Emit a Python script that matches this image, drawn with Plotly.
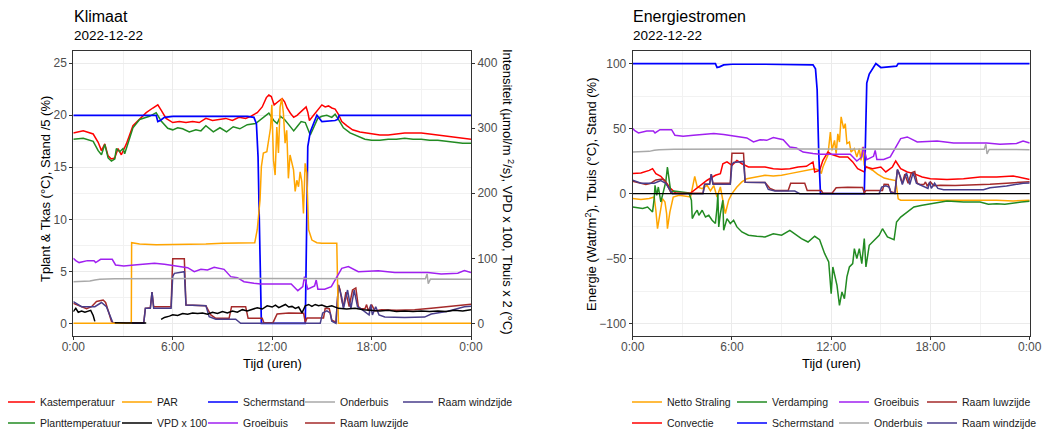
import plotly.graph_objects as go

# ---------------- data (hours of day 2022-12-22) ----------------
x_tickvals = [0, 6, 12, 18, 24]
x_ticktext = ["0:00", "6:00", "12:00", "18:00", "0:00"]

# Kastemperatuur (°C)
kas_t = [0, 0.6, 1.2, 1.5, 1.7, 1.9, 2.1, 2.3, 2.5, 2.7, 2.9, 3.2, 3.6, 4.0, 4.4, 4.8, 5.1, 5.3, 5.6, 6.0,
         6.4, 6.8, 7.2, 7.6, 8.0, 8.4, 8.8, 9.2, 9.6, 10.0, 10.4, 10.7, 11.1, 11.4, 11.65, 11.8, 11.95, 12.12,
         12.35, 12.6, 12.75, 12.9, 13.1, 13.3, 13.5, 13.7, 13.9, 14.05, 14.15, 14.25, 14.45, 14.65, 14.85, 15.0,
         15.2, 15.4, 15.6, 15.8, 16.0, 16.2, 16.5, 16.85, 17.3, 17.7, 18.0, 18.5, 19, 19.5, 20, 20.5, 21, 21.5,
         22, 22.5, 23, 23.5, 24]
kas_v = [18.3, 18.5, 18.2, 17.4, 16.6, 17.25, 16.1, 15.8, 15.9, 16.8, 16.2, 17.25, 19.0, 19.6, 20.25, 20.7, 21.0,
         20.5, 19.7, 19.3, 19.4, 19.3, 19.4, 19.3, 19.7, 19.5, 19.6, 19.7, 19.5, 19.8, 19.7, 19.9, 20.25, 20.8,
         21.7, 21.95, 21.8, 21.0, 21.3, 21.6, 21.3, 20.7, 20.2, 19.8, 20.0, 20.3, 20.6, 20.8, 20.3, 19.5, 19.9,
         20.3, 20.8, 21.0, 20.8, 20.9, 20.7, 20.6, 20.1, 19.4, 19.0, 18.6, 18.4, 18.3, 18.2, 18.1, 18.1, 18.2,
         18.3, 18.3, 18.3, 18.2, 18.1, 18.0, 17.9, 17.8, 17.7]

# Planttemperatuur (°C)
plant_t = [0, 0.6, 1.2, 1.5, 1.7, 1.9, 2.1, 2.3, 2.5, 2.6, 2.8, 3.0, 3.1, 3.3, 3.6, 4.0, 4.6, 5.0, 5.3, 5.7,
           6.0, 6.3, 6.6, 7.0, 7.4, 7.7, 8.0, 8.45, 8.85, 9.25, 9.65, 10.05, 10.5, 11.0, 11.3, 11.6, 11.8, 12.1,
           12.3, 12.5, 12.75, 13.0, 13.3, 13.5, 13.75, 14.0, 14.15, 14.3, 14.5, 14.75, 15.0, 15.3, 15.6, 15.8,
           16.0, 16.3, 16.7, 17.2, 17.6, 18.0, 18.5, 19, 19.5, 20, 20.5, 21, 21.5, 22, 22.5, 23, 23.5, 24]
plant_v = [17.7, 17.8, 17.5, 16.6, 16.2, 17.2, 15.9, 15.6, 15.8, 16.8, 16.5, 16.8, 16.3, 17.35, 18.8, 19.6, 19.9,
           20.25, 19.45, 18.75, 18.6, 18.8, 18.7, 18.4, 18.6, 18.5, 19.0, 18.4, 18.8, 18.4, 18.9, 18.7, 19.1,
           19.2, 19.6, 20.0, 20.2, 19.5, 19.2, 19.9, 19.6, 19.1, 18.5, 18.9, 19.4, 19.3, 18.6, 18.1, 18.8, 19.7,
           19.9, 20.0, 19.8, 20.1, 19.6, 18.8, 18.3, 18.0, 17.7, 17.6, 17.6, 17.7, 17.7, 17.8, 17.7, 17.7, 17.6,
           17.6, 17.5, 17.4, 17.3, 17.3]

# PAR (µmol/m2/s)
par_t = [0, 3.5, 3.52, 4.0, 5.0, 6.0, 7.0, 8.0, 9.0, 10.0, 10.95, 11.1, 11.27, 11.35, 11.47, 11.68, 11.78, 11.9,
         11.98, 12.08, 12.18, 12.28, 12.38, 12.48, 12.58, 12.68, 12.78, 12.88, 12.98, 13.08, 13.29, 13.39, 13.49,
         13.59, 13.69, 13.79, 13.89, 13.99, 14.09, 14.2, 14.4, 14.7, 15.0, 15.5, 15.9, 15.95, 16.0, 24]
par_v = [0, 0, 124, 122, 121, 121, 122, 122, 123, 123, 124, 144, 190, 241, 262, 264, 280, 300, 336, 251, 228, 302,
         262, 333, 346, 323, 277, 297, 223, 259, 236, 203, 220, 210, 233, 218, 169, 246, 231, 144, 128, 124, 123,
         123, 123, 60, 0, 0]

# VPD x 100
vpd_t = [0, 0.15, 0.3, 0.5, 0.7, 0.9, 1.05, 1.2, 1.3, 1.32, 2.5, 2.8, 3.2, 3.6, 4.0, 4.4, 4.45, 5.3, 5.5, 5.8,
         6.0, 6.3, 6.6, 6.9, 7.2, 7.5, 7.8, 8.1, 8.4, 8.7, 9.0, 9.3, 9.6, 9.9, 10.2, 10.5, 10.8, 11.1, 11.4, 11.7,
         12.0, 12.2, 12.4, 12.6, 12.8, 13.0, 13.2, 13.4, 13.6, 13.8, 14.0, 14.2, 14.4, 14.6, 14.8, 15.0, 15.3,
         15.6, 16.0, 16.5, 17.0, 17.5, 18.0, 18.5, 19, 19.5, 20, 20.5, 21, 21.5, 22, 22.5, 23, 23.5, 24]
vpd_v = [18, 23, 17, 19, 17, 19, 20, 12, 3, None, 1, 0.5, 0.3, 0.5, 0.3, 0.5, None, 6, 9, 11,
         13, 12, 15, 14, 16, 15, 16, 14, 17, 15, 18, 16, 19, 17, 21, 19, 22, 24, 22, 27,
         25, 28, 24, 27, 29, 25, 26, 23, 25, 16, 27, 29, 26, 29, 27, 28, 25, 27, 23, 22,
         23, 21, 20, 19, 20, 18, 19, 18, 19, 18, 19, 18, 20, 19, 21]

# Schermstand (%)
scherm_t = [0, 5.0, 5.1, 5.25, 5.5, 6.0, 8.0, 10.5, 10.9, 11.05, 11.15, 11.25, 11.35, 14.0, 14.08, 14.15, 14.3,
            14.5, 14.7, 15.0, 15.8, 15.95, 16.05, 24]
scherm_v = [100, 100, 97, 97.5, 99, 99.5, 99.5, 99.5, 99, 96, 80, 30, 0, 0, 40, 85, 92, 96, 100, 97, 97.5, 98,
            100, 100]

# Groeibuis (°C)
groei_t = [0, 0.15, 0.35, 0.85, 1.25, 1.35, 1.65, 2.35, 2.55, 3.05, 3.67, 4.27, 4.9, 5.5, 6.1, 6.9, 7.3, 7.7,
           8.1, 8.5, 9.1, 9.5, 9.9, 10.3, 10.9, 11.3, 12.5, 13.15, 13.55, 13.85, 13.95, 14.15, 14.56, 14.66,
           14.76, 15.17, 15.57, 15.87, 16.2, 16.6, 17.2, 18.4, 19.4, 20.4, 21.4, 22.2, 23.2, 23.6, 24]
groei_v = [50, 48.2, 46.7, 48.2, 48.2, 46.7, 49.2, 49.2, 44.9, 44.1, 44.9, 45.6, 46.2, 45.4, 44.1, 42.8, 39.7,
           41.5, 41.0, 43.1, 41.5, 35.9, 35.1, 32.0, 30.8, 30.3, 30.3, 30.3, 25.1, 28.2, 35.9, 26.2, 28.7, 33.3,
           26.2, 26.2, 28.2, 34.6, 42.3, 43.6, 39.7, 40.5, 39.0, 39.0, 39.0, 37.9, 38.5, 40.5, 39.0]

# Onderbuis (°C)
onder_t = [0, 0.5, 1.0, 1.3, 1.6, 2.5, 4, 6, 8, 10, 12, 14, 16, 18, 20, 21.25, 21.35, 21.42, 21.55, 22, 23, 24]
onder_v = [32.0, 32.0, 32.5, 33.3, 33.8, 34.2, 34.4, 34.5, 34.4, 34.4, 34.3, 34.3, 34.5, 34.5, 34.4, 34.2, 38.0,
           30.5, 34.0, 34.0, 33.9, 33.8]

# Raam luwzijde (%)
luw_t = [0, 0.5, 0.8, 1.1, 1.4, 1.8, 1.95, 2.15, 2.3, 2.4, 4.25, 4.35, 4.65, 4.75, 4.85, 5.9, 6.0, 6.7, 6.8, 8.0,
         8.3, 8.6, 9.4, 9.55, 10.4, 10.55, 11.4, 11.5, 12.05, 12.3, 13.0, 13.9, 14.0, 14.1, 15.1, 15.2, 15.45,
         15.6, 15.85, 16.0, 16.1, 16.2, 16.3, 16.45, 16.65, 16.85, 17.05, 17.2, 17.35, 17.6, 17.7, 17.8, 18.0,
         18.2, 18.6, 19.5, 20.6, 21.6, 22.6, 23.6, 24]
luw_v = [9.6, 8, 7, 8, 10.5, 11.2, 10, 5, 1, 0.3, 0.3, 7.2, 7.5, 15, 8, 8, 31, 31, 8.8, 8.5,
         4, 2.4, 2.4, 8, 8, 2.4, 2.4, 0.3, 0.3, 4.5, 5, 4.8, 0.5, 2.5, 2.5, 7.2, 7, 1.5, 0.5, 18.4,
         16, 11, 8, 15, 8, 16, 17, 8, 7, 7, 9, 6, 9, 6, 6.5, 6.3, 6.5, 7.2, 8, 9, 9.2]

# Raam windzijde (%)
wind_t = [0, 0.5, 1.3, 1.7, 2.0, 2.2, 2.4, 4.25, 4.35, 4.65, 4.75, 4.85, 5.9, 6.0, 6.1, 6.7, 6.8, 8.0, 8.2, 8.6,
          9.8, 9.95, 10.1, 14.9, 15.05, 15.3, 15.5, 15.6, 15.85, 16.0, 16.2, 16.3, 16.55, 16.75, 16.95, 17.15,
          17.45, 17.85, 17.95, 18.05, 18.25, 18.45, 18.8, 20.0, 21.2, 21.6, 22.6, 23.6, 24]
wind_v = [10.4, 8, 8, 10, 8, 4, 0, 0, 7.2, 7.2, 15, 7.2, 7.2, 22.5, 24, 24.8, 8.8, 8.5, 3.2, 2,
          2, 1, 0, 0, 5, 6, 5, 1, 0, 18.5, 12.5, 7, 16, 7, 16, 8, 6.5, 4, 9, 4,
          8, 4, 3, 2.8, 3, 4.5, 5.8, 8, 8.2]

# Netto Straling (W/m2)
netto_t = [0, 0.5, 1.0, 1.3, 1.4, 1.5, 1.65, 1.8, 1.95, 2.05, 2.1, 2.25, 2.45, 2.8, 3.5, 3.65, 3.75, 3.9, 4.2, 4.5,
           4.7, 4.9, 5.1, 5.3, 5.5, 5.6, 5.8, 6.0, 6.3, 6.6, 6.9, 7.5, 8.0, 8.5, 9.0, 9.5, 10.0, 10.5, 11.0, 11.3,
           11.4, 11.5, 11.8, 11.95, 12.05, 12.2, 12.3, 12.4, 12.5, 12.6, 12.75, 12.85, 12.95, 13.1, 13.2, 13.4,
           13.55, 13.7, 13.8, 13.9, 14.0, 14.2, 14.5, 14.8, 15.2, 15.5, 15.9, 16.05, 16.2, 17, 18, 19, 20, 21,
           22, 23, 24]
netto_v = [-3.8, -4.6, -3.8, -2.6, -12.8, -26.9, -15.4, -3.8, -6.4, -15.4, -26.9, -14.1, -2.6, -1.3, -2.6, 9,
           13.3, 5.1, 3.8, 6.4, 2.1, 6.2, -2.6, 5.1, -7.7, -15.4, -5.1, 0, 5.1, 9, 11.5, 12.8, 14.1, 13.6, 14.1,
           15.4, 16.7, 17.9, 19.2, 17.9, 15.4, 20.5, 29.5, 47.4, 33.3, 41, 30.8, 46, 39.7, 59, 50, 53.8, 38.5,
           39.7, 32, 34.6, 28.2, 34.6, 25.6, 35.9, 22, 20, 18, 15, 12, 11, 10, -4, -5.1, -5.1, -5.1, -4.6, -4.6,
           -4.6, -5.1, -5.6, -5.1]

# Convectie (W/m2)
conv_t = [0, 0.5, 1.0, 1.2, 1.4, 1.7, 2.0, 2.3, 2.6, 3.0, 3.5, 4.0, 4.5, 5.0, 5.3, 5.45, 5.7, 6.0, 6.3, 6.6,
          7.0, 7.5, 8.0, 8.5, 9.0, 9.5, 10.0, 10.5, 10.9, 11.0, 11.3, 11.5, 11.8, 12.0, 12.5, 13.0, 13.3, 13.6,
          14.0, 14.1, 14.5, 15.0, 15.3, 15.7, 15.9, 16.2, 16.6, 17.0, 17.5, 18.0, 19.0, 20.0, 21.0, 22.0, 23.0, 24]
conv_v = [15.4, 15.9, 17.9, 19.2, 15.4, 13.3, 9, 3.8, 0.5, 0, 0.5, 5.1, 10.3, 14.1, 15.4, 23, 24.4, 21.8, 25.6,
          23, 20.5, 20.5, 20.5, 19.2, 18.7, 19.2, 20.5, 21, 24.4, 16.7, 17.9, 25.6, 32, 30.3, 28.2, 28.2, 24.4,
          19.2, 16.7, 20.5, 19.2, 20.5, 16.7, 20.5, 25.1, 19.2, 16.7, 15.4, 12.8, 11.5, 10.8, 11.5, 12.8, 12.8,
          13.6, 10.8]

# Verdamping (W/m2)
verd_t = [0, 0.3, 0.6, 0.9, 1.1, 1.2, 1.3, 1.35, 1.45, 1.55, 1.7, 1.85, 2.0, 2.1, 2.2, 2.3, 2.5, 3.0, 3.4, 3.55,
          3.6, 3.75, 3.9, 4.0, 4.2, 4.4, 4.6, 4.8, 5.0, 5.1, 5.15, 5.2, 5.3, 5.45, 5.5, 5.7, 5.9, 6.1, 6.3, 6.6,
          7.0, 7.5, 8.0, 8.5, 9.0, 9.5, 9.8, 10.2, 10.6, 11.0, 11.3, 11.6, 11.85, 12.0, 12.1, 12.35, 12.5, 12.65,
          12.8, 12.95, 13.1, 13.3, 13.4, 13.55, 13.7, 13.85, 14.0, 14.1, 14.3, 14.6, 14.9, 15.1, 15.4, 15.8,
          15.95, 16.2, 16.6, 17.0, 17.5, 18.0, 18.5, 19.0, 20.0, 21.0, 21.5, 22.0, 22.5, 23.0, 23.5, 24]
verd_v = [-10.3, -10.8, -11.5, -10.3, -13.3, -14.1, -3.8, 6.4, -1.3, 5.1, -6.4, 2.6, 9, 20.5, 9, 1.3, 2, 1.3,
          0.5, -5.1, -19.2, -15.4, -12.8, -16.7, -12.8, -18, -16.7, -20.5, -23, -10.3, 0, -25.6, -15.4, -5.1,
          -28.2, -19.2, -23, -20.5, -25.6, -29.5, -32, -32.8, -33.3, -30.8, -32, -28.2, -30.8, -34.6, -37.2,
          -32.8, -35.4, -46, -52.6, -77, -56.4, -70.5, -86, -75.6, -80.8, -64, -56.4, -53.8, -42.3, -50, -42.3,
          -53.8, -34.6, -56.4, -39.7, -35.9, -32, -27, -33.3, -35.4, -21.8, -18, -14.1, -10.3, -9, -7.7, -6.4,
          -5.6, -6.4, -6.4, -8.2, -7.7, -8.2, -7.2, -6.4, -5.9]

# ---------------- layout helpers ----------------
# The page body has an 8 px margin, so the figure is sized to fit the 1051x434 window
# and screen coordinates are converted to figure coordinates by subtracting that offset.
OFF = 8
W, H = 1051 - OFF, 434 - OFF
FONT = "Liberation Sans, Arial, sans-serif"


def px(x):
    return (x - OFF) / W


def py(y):
    return 1 - (y - OFF) / H


RED, GREEN, ORANGE, BLUE = "#FF0000", "#228B22", "#FFA500", "#0000FF"
GREY, PURPLE, BROWN, SLATE = "#A9A9A9", "#A020F0", "#A52A2A", "#483D8B"

fig = go.Figure()
legends = {}
leg_count = [0]


def add_line(t, v, name, color, xa, ya, lx, ly, width=1.5, scale=1.0):
    leg_count[0] += 1
    key = "legend" if leg_count[0] == 1 else "legend%d" % leg_count[0]
    n = min(len(t), len(v))
    yy = [None if val is None else val * scale for val in v[:n]]
    fig.add_trace(go.Scatter(x=t[:n], y=yy, mode="lines", name=name,
                             line=dict(color=color, width=width),
                             xaxis=xa, yaxis=ya, legend=key))
    legends[key] = dict(x=px(lx - 40), y=py(ly), xanchor="left", yanchor="middle",
                        bgcolor="rgba(0,0,0,0)", borderwidth=0, tracegroupgap=0,
                        font=dict(size=10.5, color="#1a1a1a", family=FONT))


R1, R2 = 402, 423
# left chart: Klimaat
add_line(kas_t, kas_v, "Kastemperatuur", RED, "x", "y", 40, R1)
add_line(plant_t, plant_v, "Planttemperatuur", GREEN, "x", "y", 40, R2)
add_line(par_t, par_v, "PAR", ORANGE, "x", "y2", 157, R1)
add_line(vpd_t, vpd_v, "VPD x 100", "#000000", "x", "y2", 157, R2)
add_line(scherm_t, scherm_v, "Schermstand", BLUE, "x", "y", 243, R1, width=1.7, scale=1 / 5)
add_line(groei_t, groei_v, "Groeibuis", PURPLE, "x", "y2", 243, R2, scale=2)
add_line(onder_t, onder_v, "Onderbuis", GREY, "x", "y2", 340, R1, scale=2)
add_line(luw_t, luw_v, "Raam luwzijde", BROWN, "x", "y", 340, R2, scale=1 / 5)
add_line(wind_t, wind_v, "Raam windzijde", SLATE, "x", "y", 438, R1, scale=1 / 5)

# right chart: Energiestromen
add_line(netto_t, netto_v, "Netto Straling", ORANGE, "x2", "y3", 667, R1)
add_line(conv_t, conv_v, "Convectie", RED, "x2", "y3", 667, R2)
add_line(verd_t, verd_v, "Verdamping", GREEN, "x2", "y3", 772, R1)
add_line(scherm_t, scherm_v, "Schermstand", BLUE, "x2", "y3", 772, R2, width=1.7)
add_line(groei_t, groei_v, "Groeibuis", PURPLE, "x2", "y3", 874, R1)
add_line(onder_t, onder_v, "Onderbuis", GREY, "x2", "y3", 874, R2)
add_line(luw_t, luw_v, "Raam luwzijde", BROWN, "x2", "y3", 962, R1)
add_line(wind_t, wind_v, "Raam windzijde", SLATE, "x2", "y3", 962, R2)

GRID = "#EBEBEB"
BORDER = "#333333"
tickfont = dict(size=12, color="#4D4D4D", family=FONT)

common_x = dict(range=[0, 24], tickvals=x_tickvals, ticktext=x_ticktext, showgrid=True, gridcolor=GRID,
                gridwidth=1, minor=dict(dtick=3, tick0=0, showgrid=True, gridcolor="#F2F2F2", gridwidth=1),
                zeroline=False, showline=True, mirror=True, linecolor=BORDER, linewidth=1,
                ticks="outside", ticklen=3, tickcolor=BORDER, tickfont=tickfont, ticklabelstandoff=-3)

L0, L1 = 73.3, 471.0
R0, R1x = 632.7, 1029.7
T, B = 51, 336

fig.update_layout(
    width=W, height=H, margin=dict(l=0, r=0, t=0, b=0, autoexpand=False),
    paper_bgcolor="white", plot_bgcolor="white",
    font=dict(family=FONT, color="#000000"),
    xaxis=dict(domain=[px(L0), px(L1)], anchor="y", **common_x),
    yaxis=dict(domain=[py(B), py(T)], anchor="x", range=[-1.22, 26.18], tickvals=[0, 5, 10, 15, 20, 25],
               showgrid=True, gridcolor=GRID, minor=dict(dtick=2.5, tick0=0, showgrid=True, gridcolor="#F2F2F2"),
               zeroline=False, showline=True, mirror=True, linecolor=BORDER, linewidth=1,
               ticks="outside", ticklen=3, tickcolor=BORDER, tickfont=tickfont),
    yaxis2=dict(overlaying="y", anchor="x", side="right", range=[-1.22 * 16, 26.18 * 16],
                tickvals=[0, 100, 200, 300, 400], showgrid=False, zeroline=False, showline=True,
                linecolor=BORDER, linewidth=1, ticks="outside", ticklen=3, tickcolor=BORDER, tickfont=tickfont),
    xaxis2=dict(domain=[px(R0), px(R1x)], anchor="y3", **common_x),
    yaxis3=dict(domain=[py(B), py(T)], anchor="x2", range=[-109.5, 109.7], tickvals=[-100, -50, 0, 50, 100],
                showgrid=True, gridcolor=GRID, minor=dict(dtick=25, tick0=0, showgrid=True, gridcolor="#F2F2F2"),
                zeroline=False, showline=True, mirror=True, linecolor=BORDER, linewidth=1,
                ticks="outside", ticklen=3, tickcolor=BORDER, tickfont=tickfont),
    showlegend=True,
    **legends,
)

# horizontal zero line in Energiestromen panel
fig.add_shape(type="line", xref="x2 domain", x0=0, x1=1, yref="y3", y0=0, y1=0,
              line=dict(color="#000000", width=1.4), layer="above")


def ann(text, x, y, size, angle=0, xanchor="center", color="#000000"):
    fig.add_annotation(text=text, x=px(x), y=py(y), xref="paper", yref="paper", showarrow=False,
                       xanchor=xanchor, yanchor="middle", textangle=angle,
                       font=dict(size=size, color=color, family=FONT))


ann("Klimaat", 72, 16, 16, xanchor="left")
ann("2022-12-22", 72, 35, 13.5, xanchor="left")
ann("Energiestromen", 631, 16, 16, xanchor="left")
ann("2022-12-22", 631, 35, 13.5, xanchor="left")
ann("Tijd (uren)", (L0 + L1) / 2, 363, 13)
ann("Tijd (uren)", (R0 + R1x) / 2, 363, 13)
ann("Tplant &amp; Tkas (°C), Stand /5 (%)", 45, 189, 13, angle=-90)
ann("Intensiteit (µmol/m <sup>2</sup>/s), VPD x 100, Tbuis x 2 (°C)", 508, 192, 13, angle=90)
ann("Energie (Watt/m<sup>2</sup>), Tbuis (°C), Stand (%)", 591, 194, 13, angle=-90)

fig.write_html("out.html")
